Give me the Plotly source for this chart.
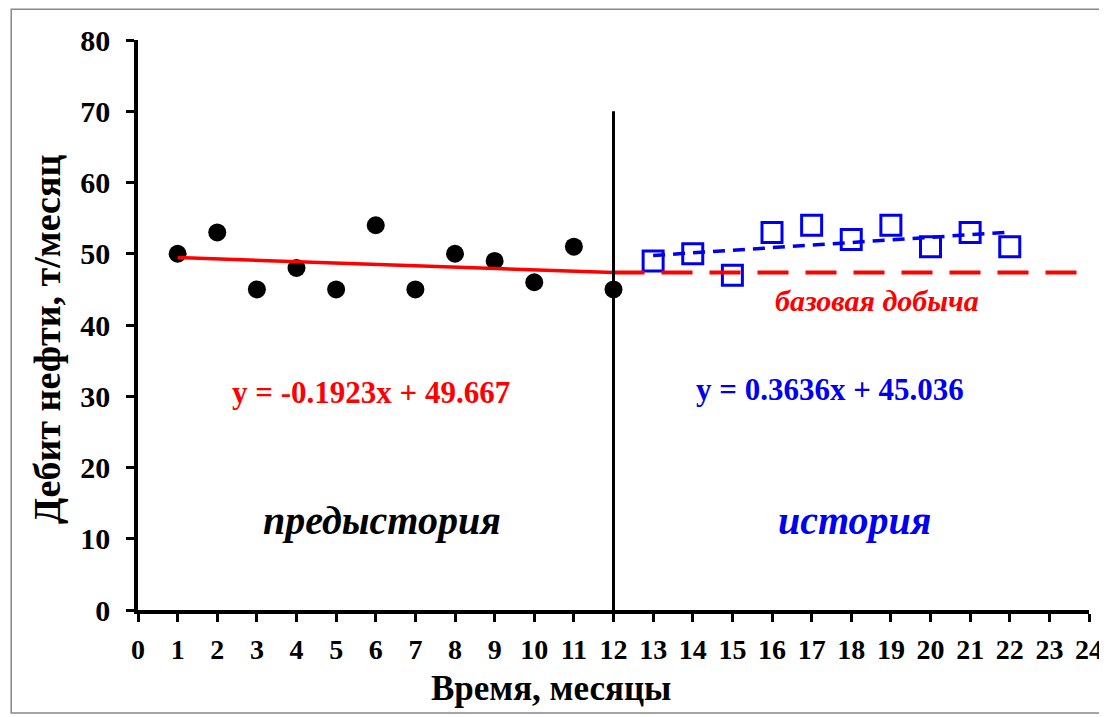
import plotly.graph_objects as go

# ---- data ----
months_pre = [1, 2, 3, 4, 5, 6, 7, 8, 9, 10, 11, 12]
oil_pre = [50, 53, 45, 48, 45, 54, 45, 50, 49, 46, 51, 45]
months_hist = [13, 14, 15, 16, 17, 18, 19, 20, 21, 22]
oil_hist = [49, 50, 47, 53, 54, 52, 54, 51, 53, 51]
pre_slope, pre_intercept = -0.1923, 49.667
hist_slope, hist_intercept = 0.3636, 45.036
split_month = 12
split_top = 70
x_ticks = list(range(0, 25))
y_ticks = list(range(0, 90, 10))

FONT = "Liberation Serif"
RED = "#ff0000"
BLUE = "#0000ee"

fig = go.Figure()

# pre-history points
fig.add_trace(go.Scatter(
    x=months_pre, y=oil_pre, mode="markers",
    marker=dict(symbol="circle", size=18, color="black"),
    showlegend=False))

# history points
fig.add_trace(go.Scatter(
    x=months_hist, y=oil_hist, mode="markers",
    marker=dict(symbol="square-open", size=20, color=BLUE, line=dict(width=3, color=BLUE)),
    showlegend=False))

# pre-history trend (solid red)
px0, px1 = months_pre[0], months_pre[-1]
fig.add_trace(go.Scatter(
    x=[px0, px1], y=[pre_slope * px0 + pre_intercept, pre_slope * px1 + pre_intercept],
    mode="lines", line=dict(color=RED, width=3.5), showlegend=False))

# base production (dashed red) extrapolated from end of pre-history
base_val = pre_slope * px1 + pre_intercept
fig.add_trace(go.Scatter(
    x=[split_month, x_ticks[-1]], y=[base_val, base_val],
    mode="lines", line=dict(color=RED, width=4, dash="31px,17px"), showlegend=False))

# history trend (dashed blue)
hx0, hx1 = months_hist[0], months_hist[-1]
fig.add_trace(go.Scatter(
    x=[hx0, hx1], y=[hist_slope * hx0 + hist_intercept, hist_slope * hx1 + hist_intercept],
    mode="lines", line=dict(color=BLUE, width=3.5, dash="12px,8px"), showlegend=False))

# vertical split line
fig.add_trace(go.Scatter(
    x=[split_month, split_month], y=[0, split_top],
    mode="lines", line=dict(color="black", width=3), showlegend=False))

annotations = [
    dict(x=5.87, y=30.5, xref="x", yref="y", text="<b>y = -0.1923x + 49.667</b>",
         showarrow=False, font=dict(family=FONT, size=31, color=RED)),
    dict(x=17.46, y=30.9, xref="x", yref="y", text="<b>y = 0.3636x + 45.036</b>",
         showarrow=False, font=dict(family=FONT, size=31, color=BLUE)),
    dict(x=6.17, y=12.6, xref="x", yref="y", text="<b><i>предыстория</i></b>",
         showarrow=False, font=dict(family=FONT, size=40, color="black")),
    dict(x=18.09, y=12.6, xref="x", yref="y", text="<b><i>история</i></b>",
         showarrow=False, font=dict(family=FONT, size=40, color=BLUE)),
    dict(x=18.66, y=43.5, xref="x", yref="y", text="<b><i>базовая добыча</i></b>",
         showarrow=False, font=dict(family=FONT, size=30, color=RED)),
    dict(x=0.434, y=-0.138, xref="paper", yref="paper", xanchor="center", yanchor="middle",
         text="<b>Время, месяцы</b>",
         showarrow=False, font=dict(family=FONT, size=35, color="black")),
    dict(x=-0.0955, y=0.474, xref="paper", yref="paper", xanchor="center", yanchor="middle",
         text="<b>Дебит нефти, т/месяц</b>",
         textangle=-90, showarrow=False, font=dict(family=FONT, size=38, color="black")),
]

fig.update_layout(
    width=1107, height=717,
    margin=dict(l=130, r=24, t=32, b=115),
    paper_bgcolor="white", plot_bgcolor="white",
    annotations=annotations,
    shapes=[dict(type="rect", xref="paper", yref="paper",
                 x0=-0.1333, x1=1.03, y0=-0.1807, y1=1.054,
                 line=dict(color="#888888", width=1.5), layer="below")],
    xaxis=dict(range=[0, 24], tickmode="array", tickvals=x_ticks,
               ticktext=[str(v) for v in x_ticks],
               showgrid=False, zeroline=False, showline=True, linecolor="black", linewidth=3.5,
               ticks="outside", ticklen=8, tickwidth=3, tickcolor="black", ticklabelstandoff=4,
               tickfont=dict(family=FONT, size=28, color="black", weight="bold")),
    yaxis=dict(range=[0, 80], tickmode="array", tickvals=y_ticks,
               showgrid=False, zeroline=False, showline=True, linecolor="black", linewidth=3.5,
               ticks="outside", ticklen=8, tickwidth=3, tickcolor="black", ticklabelstandoff=10,
               tickfont=dict(family=FONT, size=30, color="black", weight="bold")),
)

fig.write_html("out.html")
